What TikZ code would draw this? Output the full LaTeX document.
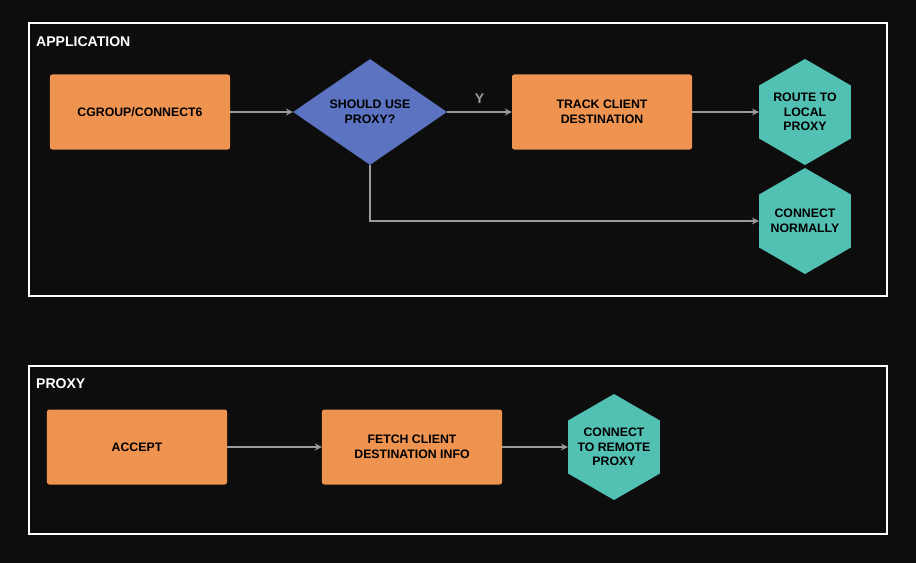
\documentclass[tikz,border=0pt]{standalone}
\usepackage{fontspec}
\setmainfont{Liberation Sans}
\usetikzlibrary{shapes.geometric,arrows}
\definecolor{boxorange}{HTML}{EE9450}
\definecolor{diablue}{HTML}{5B73C0}
\definecolor{hexteal}{HTML}{52C1B3}
\definecolor{linegray}{HTML}{9B9B9B}
\tikzset{>=latex}

\begin{document}
\begin{tikzpicture}[x=0.03cm,y=-0.03cm,
    every node/.style={font=\fontsize{10.5}{12.5}\selectfont\bfseries,align=center},
    stepbox/.style={fill=boxorange,rounded corners=2pt,minimum width=5.4cm,minimum height=2.25cm},
    choice/.style={diamond,fill=diablue,minimum width=4.62cm,minimum height=3.18cm,aspect=1.45,inner sep=0pt},
    endhex/.style={regular polygon,regular polygon sides=6,shape border rotate=30,fill=hexteal,minimum size=3.18cm,inner sep=-9pt},
    flow/.style={-stealth,draw=linegray,line width=1.6pt},
    frame/.style={draw=white,line width=1.4pt},
    title/.style={white,anchor=west,font=\fontsize{12}{14}\selectfont\bfseries}]
  % Background
  \fill[black!95!white] (0,0) rectangle (916,563);

  % Application
  \draw[frame] (29,23) rectangle (887,296);
  \node[title] (apptitle) at (32,42) {APPLICATION};
  \node[stepbox] (cgroup) at (140,112) {CGROUP/CONNECT6};
  \node[choice] (useproxy) at (370,112) {SHOULD USE\\PROXY?};
  \node[stepbox] (track) at (602,112) {TRACK CLIENT\\DESTINATION};
  \node[endhex] (local) at (805,112) {ROUTE TO\\LOCAL\\PROXY};
  \node[endhex] (normal) at (805,221) {CONNECT\\NORMALLY};
  \draw[flow] (cgroup) -- (useproxy);
  \draw[flow] (useproxy) -- node[above=3pt,text=linegray,font=\fontsize{12}{14}\selectfont\bfseries] (yes) {Y} (track);
  \draw[flow] (track) -- (local);
  \draw[flow] (useproxy.south) |- (normal);

  % Proxy
  \draw[frame] (29,366) rectangle (887,534);
  \node[title] (proxytitle) at (32,384) {PROXY};
  \node[stepbox] (accept) at (137,447) {ACCEPT};
  \node[stepbox] (fetch) at (412,447) {FETCH CLIENT\\DESTINATION INFO};
  \node[endhex] (remote) at (614,447) {CONNECT\\TO REMOTE\\PROXY};
  \draw[flow] (accept) -- (fetch);
  \draw[flow] (fetch) -- (remote);
\end{tikzpicture}
\end{document}
